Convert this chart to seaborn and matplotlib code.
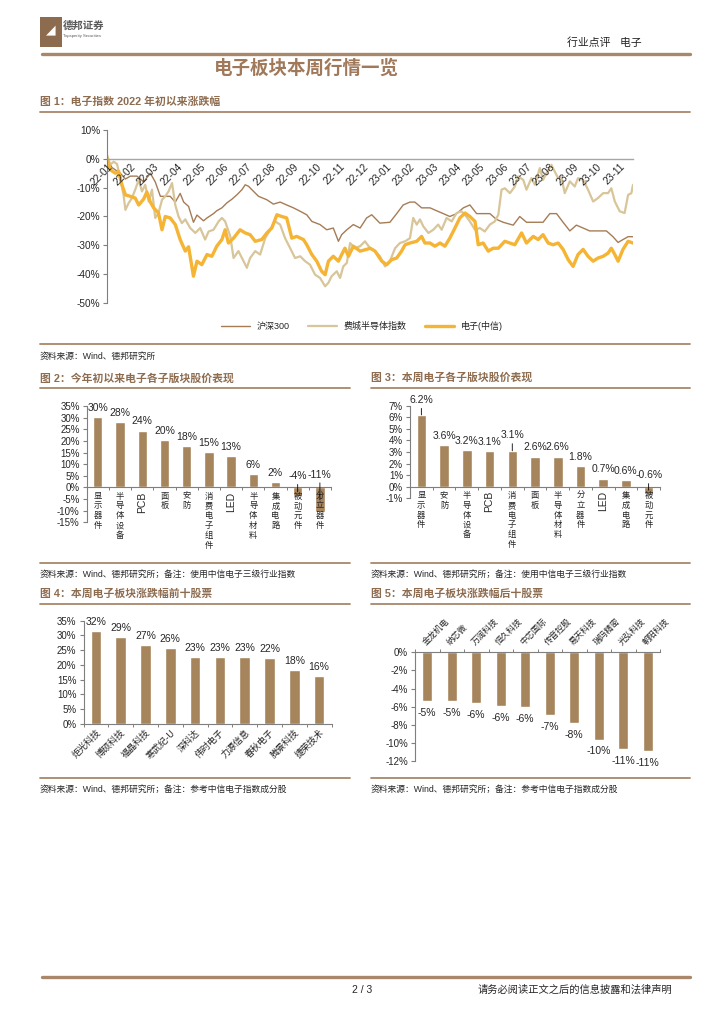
import matplotlib
matplotlib.use("Agg")
import matplotlib.pyplot as plt
import seaborn as sns
import pandas as pd
from matplotlib.lines import Line2D
from matplotlib.patches import Rectangle

# ---------------- data ----------------
month_labels = ["22-01", "22-02", "22-03", "22-04", "22-05", "22-06", "22-07", "22-08", "22-09",
                "22-10", "22-11", "22-12", "23-01", "23-02", "23-03", "23-04", "23-05", "23-06",
                "23-07", "23-08", "23-09", "23-10", "23-11"]

hs300_x = [0, 0.21, 0.57, 0.79, 1.0, 1.29, 1.57, 1.86, 2.07, 2.29, 2.71, 2.93, 3.14, 3.29, 3.5,
           3.71, 3.86, 4.14, 4.29, 4.57, 4.71, 4.93, 5.14, 5.36, 5.57, 5.79, 5.93, 6.07, 6.29, 6.5,
           6.86, 7.14, 7.43, 7.71, 8.0, 8.29, 8.57, 8.79, 9.14, 9.43, 9.71, 9.93, 10.07, 10.29, 10.57,
           10.86, 11.14, 11.36, 11.71, 12.14, 12.43, 12.71, 13.0, 13.21, 13.5, 13.86, 14.14, 14.43,
           14.71, 15.0, 15.29, 15.57, 15.86, 16.14, 16.43, 16.71, 17.0, 17.43, 17.71, 18.0, 18.43,
           18.71, 19.0, 19.29, 19.57, 19.86, 20.14, 20.43, 20.71, 21.14, 21.43, 21.71, 21.93, 22.14,
           22.36, 22.57]
hs300_y = [0, -3, -5, -7, -6, -6, -8, -5, -8, -13, -13, -15, -12, -15, -16.5, -22, -19.5, -21.5,
           -20.5, -19, -18, -17, -15.3, -14, -12.5, -10.7, -9, -9.5, -11.3, -13, -14.2, -15.7, -15,
           -16, -17, -18.2, -19.4, -21.7, -22.8, -24.6, -24, -28.6, -26.3, -24.6, -22.8, -24, -20.5,
           -19.4, -22.3, -22, -19, -16, -15, -15, -17, -17, -18, -19, -20, -19, -17, -16, -19, -19,
           -19, -21, -22, -23, -20, -22, -22, -22, -19, -19, -22, -25, -23, -24, -25, -25, -25, -27,
           -29, -28, -27, -27]

semi_x = [0, 0.14, 0.29, 0.43, 0.57, 0.71, 0.79, 0.93, 1.07, 1.21, 1.36, 1.5, 1.64, 1.79, 1.93,
          2.07, 2.21, 2.36, 2.5, 2.64, 2.79, 2.93, 3.07, 3.21, 3.36, 3.57, 3.79, 4.0, 4.21, 4.36,
          4.57, 4.79, 4.93, 5.07, 5.29, 5.43, 5.64, 5.86, 6.0, 6.14, 6.36, 6.57, 6.79, 7.0, 7.21,
          7.43, 7.64, 7.86, 8.07, 8.29, 8.5, 8.71, 8.93, 9.14, 9.36, 9.5, 9.64, 9.86, 10.0, 10.14,
          10.29, 10.43, 10.64, 10.86, 11.07, 11.29, 11.5, 11.71, 11.93, 12.14, 12.36, 12.57, 12.79,
          13.0, 13.14, 13.29, 13.43, 13.57, 13.79, 14.0, 14.21, 14.36, 14.57, 14.79, 15.0, 15.21,
          15.36, 15.57, 15.79, 16.0, 16.21, 16.43, 16.64, 16.79, 16.93, 17.07, 17.29, 17.5, 17.64,
          17.86, 18.0, 18.21, 18.36, 18.57, 18.71, 18.86, 19.07, 19.21, 19.36, 19.5, 19.64, 19.86,
          20.07, 20.21, 20.43, 20.64, 20.86, 21.07, 21.29, 21.5, 21.64, 21.79, 22.0, 22.21, 22.36,
          22.5, 22.57]
semi_y = [1.4, -2, -1, -1.8, -6.7, -12.5, -17.7, -15.3, -13.6, -10.7, -7.3, -11.3, -9, -14.8,
          -10.7, -20.5, -18.8, -14.2, -13, -11.3, -8.4, -16, -20, -22.3, -21, -24, -25.7, -24, -28,
          -25.2, -24.6, -21.7, -20.5, -21.7, -26.9, -34.4, -32, -35.5, -37.8, -34.4, -32, -33.2,
          -27.5, -24.6, -21.7, -22.8, -27.5, -31, -34.4, -33.8, -35.5, -36.7, -40.2, -41.3, -44.2,
          -43, -40.7, -39, -41.3, -37.3, -36.1, -29.2, -31, -30.3, -28.6, -31, -32, -33.8, -37.3,
          -35.5, -31, -29.2, -28.6, -27.5, -20.5, -22.8, -21, -23.4, -25.7, -24.6, -22.8, -24.6,
          -20.5, -21.7, -18.8, -18.2, -19.4, -21.7, -24.6, -24, -25.2, -22.8, -21.7, -19.4, -10.7,
          -10.2, -11.9, -9.6, -6.1, -7.3, -10.7, -6.7, -9, -3.2, -7.3, -5, -2.1, -4.4, -6.7, -6.5,
          -11.9, -7.8, -9.6, -6.7, -7.3, -10.7, -14.8, -13.6, -11.9, -11.9, -10.2, -14.8, -18.2,
          -18.8, -12.5, -11.9, -9]

elec_x = [0, 0.14, 0.36, 0.5, 0.64, 0.79, 1.0, 1.21, 1.36, 1.57, 1.71, 1.86, 2.0, 2.21, 2.36, 2.5,
          2.71, 2.93, 3.14, 3.36, 3.5, 3.71, 3.86, 4.07, 4.29, 4.5, 4.71, 4.93, 5.07, 5.21, 5.43,
          5.71, 5.93, 6.14, 6.36, 6.64, 6.86, 7.07, 7.29, 7.5, 7.71, 7.93, 8.14, 8.43, 8.57, 8.79,
          9.0, 9.21, 9.36, 9.5, 9.71, 9.93, 10.07, 10.21, 10.36, 10.57, 10.86, 11.14, 11.29, 11.5,
          11.79, 12.0, 12.21, 12.43, 12.64, 12.79, 13.0, 13.29, 13.5, 13.64, 13.86, 14.07, 14.29,
          14.5, 14.71, 14.93, 15.14, 15.36, 15.57, 15.79, 15.93, 16.14, 16.36, 16.57, 16.79, 17.07,
          17.29, 17.5, 17.79, 18.0, 18.29, 18.5, 18.71, 18.93, 19.14, 19.36, 19.57, 19.79, 20.0,
          20.21, 20.43, 20.64, 20.86, 21.07, 21.29, 21.5, 21.64, 21.79, 21.93, 22.14, 22.36, 22.57]
elec_y = [0, -3.8, -5, -4.4, -9, -12.5, -13, -13.6, -16, -14, -11.5, -15, -17, -18.8, -24.6, -20,
          -20.5, -22.8, -28, -32, -30.5, -40.7, -35.5, -36.7, -33.2, -33.8, -30.3, -28, -24.6,
          -29.2, -27.5, -24.6, -25.7, -26.3, -28.6, -28, -25.7, -24, -19.4, -20, -20.5, -27.5,
          -26.9, -28, -29.8, -33.2, -35.5, -39, -40.2, -35.5, -33.8, -35.5, -33.2, -31, -33.8,
          -30.3, -32, -31.4, -31, -32, -35.5, -36.7, -35, -34.4, -32, -29.8, -29.2, -28.6, -26.9,
          -29.2, -29.2, -30.3, -29.2, -30.3, -27.5, -24, -20.5, -18.8, -20, -21.7, -29.8, -29.2,
          -32, -31, -31, -28.6, -29.2, -29.8, -25.7, -29.2, -26.9, -28, -26.3, -29.2, -29.8, -29.2,
          -31.4, -35, -37.3, -33.2, -31.4, -33.8, -35.5, -34.4, -33.8, -32.7, -31, -33.2, -35.5,
          -31.4, -28.6, -29.2]

series_names = ["沪深300", "费城半导体指数", "电子(中信)"]

ytd_sectors = ["显示器件", "半导体设备", "PCB", "面板", "安防", "消费电子组件", "LED",
               "半导体材料", "集成电路", "被动元件", "分立器件"]
ytd_values = [30.4, 28.1, 24.4, 20.4, 17.9, 15.3, 13.4, 5.8, 2.3, -3.8, -10.6]

week_sectors = ["显示器件", "安防", "半导体设备", "PCB", "消费电子组件", "面板", "半导体材料",
                "分立器件", "LED", "集成电路", "被动元件"]
week_values = [6.2, 3.6, 3.2, 3.1, 3.1, 2.6, 2.6, 1.8, 0.7, 0.6, -0.6]

top10_names = ["炬光科技", "博硕科技", "福晶科技", "寒武纪-U", "深科达", "伟时电子", "力源信息",
               "春秋电子", "腾景科技", "捷荣技术"]
top10_values = [31.6, 29.4, 26.7, 25.7, 22.6, 22.6, 22.6, 22.2, 18.4, 16.3]

bottom10_names = ["金龙机电", "纳芯微", "万润科技", "恒久科技", "中芯国际", "传音控股", "易天科技",
                  "瑞玛精密", "光弘科技", "朝阳科技"]
bottom10_values = [-5.4, -5.4, -5.6, -5.9, -6.0, -6.9, -7.8, -9.6, -10.6, -10.9]

# ---------------- style ----------------
sns.set_theme(style="ticks")
plt.rcParams["font.family"] = ["Liberation Sans", "Noto Sans CJK SC", "DejaVu Sans"]
plt.rcParams["axes.unicode_minus"] = False
CJK = ["Noto Sans CJK SC", "DejaVu Sans"]

W, H = 724, 1024
fig = plt.figure(figsize=(W / 100, H / 100), dpi=100)
BAR = "#A6845C"
RULE = "#A8876A"
HEAD = "#8E6C50"
AXC = "#7F7F7F"


def fx(x):
    return x / W


def fy(y):
    return 1 - y / H


def ax_at(x0, y0, x1, y1):
    return fig.add_axes([fx(x0), fy(y1), (x1 - x0) / W, (y1 - y0) / H])


def hline(x0, x1, y, lw=1.3, color=RULE):
    fig.add_artist(Line2D([fx(x0), fx(x1)], [fy(y), fy(y)], transform=fig.transFigure,
                          color=color, lw=lw))


def text(x, y, s, **kw):
    fig.text(fx(x), fy(y), s, **kw)


def pct0(v):
    return f"{v:.0f}%"


# ---------------- page decorations ----------------
fig.add_artist(Rectangle((fx(40), fy(47)), 22 / W, 30 / H, transform=fig.transFigure,
                         color="#8C6B4F", lw=0))
text(51, 30, "◢", fontsize=9, color="white", ha="center", va="center", family=["DejaVu Sans"])
text(63, 26, "德邦证券", fontsize=7.5, fontweight="bold", color="#5A5A5A", va="center", family=CJK)
text(63, 36, "Topsperity Securities", fontsize=3, color="#5A5A5A", va="center")
text(567, 43, "行业点评    电子", fontsize=7.8, va="center", family=CJK, color="#222222")
hline(42, 690, 54, lw=2.4)
text(306, 68, "电子板块本周行情一览", fontsize=13.3, fontweight="bold", ha="center", va="center",
     color="#A0785A", family=CJK)

headers = [
    (40, 102, "图 1：电子指数 2022 年初以来涨跌幅"),
    (40, 378, "图 2：今年初以来电子各子版块股价表现"),
    (371, 378, "图 3：本周电子各子版块股价表现"),
    (40, 594, "图 4：本周电子板块涨跌幅前十股票"),
    (371, 594, "图 5：本周电子板块涨跌幅后十股票"),
]
for x, y, s in headers:
    text(x, y, s, fontsize=7.8, fontweight="bold", color=HEAD, va="center")

hline(40, 690, 112)
hline(40, 690, 344)
hline(40, 350, 388)
hline(371, 690, 388)
hline(40, 350, 563)
hline(371, 690, 563)
hline(40, 350, 604)
hline(371, 690, 604)
hline(40, 350, 778)
hline(371, 690, 778)

src_a = "资料来源：Wind、德邦研究所；备注：使用中信电子三级行业指数"
src_b = "资料来源：Wind、德邦研究所；备注：参考中信电子指数成分股"
SRC = 6.3
text(40, 356, "资料来源：Wind、德邦研究所", fontsize=SRC, va="center")
text(40, 574, src_a, fontsize=SRC, va="center")
text(371, 574, src_a, fontsize=SRC, va="center")
text(40, 789, src_b, fontsize=SRC, va="center")
text(371, 789, src_b, fontsize=SRC, va="center")

hline(42, 690, 977, lw=2.4)
text(362, 990, "2 / 3", fontsize=7.5, ha="center", va="center")
text(672, 990, "请务必阅读正文之后的信息披露和法律声明", fontsize=7.4, ha="right", va="center",
     family=CJK)

# ---------------- figure 1: lines ----------------
ax1 = ax_at(107, 130, 633, 303)
df_lines = pd.concat([
    pd.DataFrame({"m": hs300_x, "v": hs300_y, "s": series_names[0]}),
    pd.DataFrame({"m": semi_x, "v": semi_y, "s": series_names[1]}),
    pd.DataFrame({"m": elec_x, "v": elec_y, "s": series_names[2]}),
])
line_colors = ["#A57C55", "#D8C599", "#F5B433"]
line_widths = [1.0, 1.6, 2.4]
for name, c, lw in zip(series_names, line_colors, line_widths):
    sns.lineplot(data=df_lines[df_lines["s"] == name], x="m", y="v", ax=ax1, color=c, lw=lw,
                 sort=False, estimator=None, label=name)
ax1.set_xlim(0, 22.57)
ax1.set_ylim(-50, 10)
ax1.spines["bottom"].set_position(("data", 0))
ax1.spines["bottom"].set_color("#A6A6A6")
ax1.spines["bottom"].set_linewidth(1.0)
ax1.spines["left"].set_color(AXC)
ax1.spines["left"].set_linewidth(0.8)
ax1.spines["top"].set_visible(False)
ax1.spines["right"].set_visible(False)
ax1.set_axisbelow(False)
ax1.set_yticks(range(-50, 11, 10))
ax1.set_yticklabels([pct0(v) for v in range(-50, 11, 10)], fontsize=7.2)
ax1.set_xticks(range(len(month_labels)))
ax1.tick_params(axis="x", length=0, pad=2)
ax1.tick_params(axis="y", length=3, width=0.8, color=AXC, pad=2)
ax1.set_xticklabels(month_labels, fontsize=7.4, rotation=45, ha="right", va="top",
                    rotation_mode="anchor")
ax1.set_xlabel("")
ax1.set_ylabel("")
handles, labels = ax1.get_legend_handles_labels()
ax1.get_legend().remove()
fig.legend(handles, labels, loc="center", bbox_to_anchor=(fx(362), fy(326)), ncol=3,
           frameon=False, handlelength=3.2, columnspacing=2.0,
           prop={"family": ["Liberation Sans", "Noto Sans CJK SC"], "size": 6.5})


# ---------------- helpers for bar charts ----------------
def style_bar_axis(ax, ylim, step, top_axis=False, zero_spine=False):
    ax.set_ylim(*ylim)
    ticks = list(range(ylim[0], ylim[1] + 1, step))
    ax.set_yticks(ticks)
    ax.set_yticklabels([pct0(v) for v in ticks], fontsize=7)
    for sp in ["top", "right", "bottom"]:
        ax.spines[sp].set_visible(False)
    ax.spines["left"].set_color(AXC)
    ax.spines["left"].set_linewidth(0.8)
    key = "top" if top_axis else "bottom"
    ax.spines[key].set_visible(True)
    ax.spines[key].set_color(AXC)
    ax.spines[key].set_linewidth(0.8)
    if zero_spine:
        ax.spines["bottom"].set_position(("data", 0))
    ax.set_axisbelow(False)
    ax.tick_params(axis="y", length=3, width=0.8, color=AXC, pad=2)
    n = len(ax.get_xticks())
    ax.set_xticks([i + 0.5 for i in range(-1, n)], minor=True)
    ax.tick_params(axis="x", which="minor", length=2.5, width=0.7, color=AXC,
                   top=top_axis, bottom=not top_axis)
    ax.tick_params(axis="x", which="major", length=0)
    ax.set_xlabel("")
    ax.set_ylabel("")


def stacked_labels(ax, names):
    labs = []
    for nm in names:
        labs.append(nm if nm.isascii() else "\n".join(nm))
    ax.set_xticks(range(len(names)))
    ax.tick_params(axis="x", which="major", pad=3)
    ax.set_xticklabels(labs)
    for t, nm in zip(ax.get_xticklabels(), names):
        if nm.isascii():
            t.set_rotation(90)
            t.set_fontsize(7.5)
        else:
            t.set_fontsize(6)
            t.set_linespacing(1.12)
            t.set_family(CJK)
        t.set_va("top")


# ---------------- figure 2 ----------------
ax2 = ax_at(86.7, 406, 331, 522.3)
sns.barplot(x=ytd_sectors, y=ytd_values, color=BAR, saturation=1, width=0.42, ax=ax2)
style_bar_axis(ax2, (-15, 35), 5, zero_spine=True)
stacked_labels(ax2, ytd_sectors)
for i, v in enumerate(ytd_values):
    if v >= 0:
        ax2.annotate(pct0(v), xy=(i, v), xytext=(0, 3), textcoords="offset points",
                     ha="center", va="bottom", fontsize=7.5)
    else:
        ax2.annotate(pct0(v), xy=(i, v * 0.5), xytext=(i, 2.3 + (-v) * 0.1), ha="center",
                     va="bottom", fontsize=7.5,
                     arrowprops=dict(arrowstyle="-", color="black", lw=0.6, shrinkA=0, shrinkB=0))

# ---------------- figure 3 ----------------
ax3 = ax_at(410, 405.7, 660, 498.3)
sns.barplot(x=week_sectors, y=week_values, color=BAR, saturation=1, width=0.42, ax=ax3)
style_bar_axis(ax3, (-1, 7), 1, zero_spine=True)
stacked_labels(ax3, week_sectors)
raised = {0: 7.05, 4: 4.0}
for i, v in enumerate(week_values):
    lab = f"{v:.1f}%"
    if i in raised:
        ax3.annotate(lab, xy=(i, v), xytext=(i, raised[i]), ha="center", va="bottom",
                     fontsize=7.5,
                     arrowprops=dict(arrowstyle="-", color="black", lw=0.6, shrinkA=0, shrinkB=0))
    elif v >= 0:
        ax3.annotate(lab, xy=(i, v), xytext=(0, 3), textcoords="offset points",
                     ha="center", va="bottom", fontsize=7.5)
    else:
        ax3.annotate(lab, xy=(i, v * 0.5), xytext=(i, 0.55), ha="center", va="bottom",
                     fontsize=7.5,
                     arrowprops=dict(arrowstyle="-", color="black", lw=0.6, shrinkA=0, shrinkB=0))

# ---------------- figure 4 ----------------
ax4 = ax_at(83.5, 620.7, 331.5, 724)
sns.barplot(x=top10_names, y=top10_values, color=BAR, saturation=1, width=0.42, ax=ax4)
style_bar_axis(ax4, (0, 35), 5)
ax4.set_xticks(range(len(top10_names)))
ax4.tick_params(axis="x", which="major", pad=3)
ax4.set_xticklabels(top10_names, rotation=45, ha="right", va="top", rotation_mode="anchor",
                    fontsize=6.5, family=CJK)
for i, v in enumerate(top10_values):
    ax4.annotate(pct0(v), xy=(i, v), xytext=(0, 3), textcoords="offset points",
                 ha="center", va="bottom", fontsize=7.5)

# ---------------- figure 5 ----------------
ax5 = ax_at(415, 652.3, 660, 761.3)
sns.barplot(x=bottom10_names, y=bottom10_values, color=BAR, saturation=1, width=0.42, ax=ax5)
style_bar_axis(ax5, (-12, 0), 2, top_axis=True)
ax5.xaxis.set_ticks_position("top")
ax5.set_xticks(range(len(bottom10_names)))
ax5.tick_params(axis="x", which="major", pad=4, labeltop=True, labelbottom=False, length=0)
ax5.tick_params(axis="x", which="minor", top=True, bottom=False)
ax5.set_xticklabels(bottom10_names, rotation=45, ha="left", va="bottom", rotation_mode="anchor",
                    fontsize=6, family=CJK)
for i, v in enumerate(bottom10_values):
    ax5.annotate(pct0(v), xy=(i, v), xytext=(0, -5), textcoords="offset points",
                 ha="center", va="top", fontsize=7.5)

fig.savefig("out.png", dpi=100)
